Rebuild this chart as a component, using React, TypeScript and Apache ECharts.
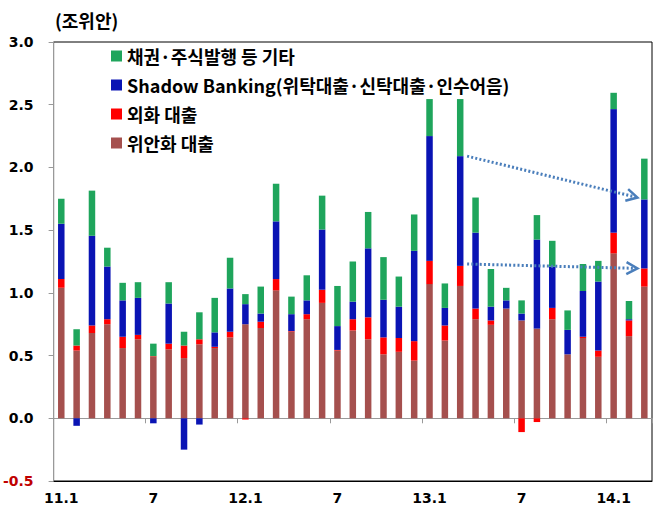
import React, { useEffect, useRef } from "react";
import * as echarts from "echarts";

const categories = [
  "11.1", "11.2", "11.3", "11.4", "11.5", "11.6", "11.7", "11.8", "11.9", "11.10", "11.11", "11.12",
  "12.1", "12.2", "12.3", "12.4", "12.5", "12.6", "12.7", "12.8", "12.9", "12.10", "12.11", "12.12",
  "13.1", "13.2", "13.3", "13.4", "13.5", "13.6", "13.7", "13.8", "13.9", "13.10", "13.11", "13.12",
  "14.1", "14.2", "14.3",
];

// 위안화 대출
const yuanLoans = [
  1.04, 0.54, 0.68, 0.75, 0.56, 0.63, 0.49, 0.55, 0.48, 0.59, 0.56, 0.645,
  0.75, 0.72, 1.02, 0.69, 0.79, 0.92, 0.54, 0.70, 0.63, 0.51, 0.53, 0.46,
  1.07, 0.62, 1.055, 0.79, 0.745, 0.875, 0.78, 0.715, 0.79, 0.51, 0.64, 0.49,
  1.315, 0.655, 1.05,
];
// 외화 대출
const fxLoans = [
  0.07, 0.04, 0.06, 0.04, 0.09, 0.035, 0.005, 0.045, 0.10, 0.04, 0.01, 0.045,
  -0.01, 0.05, 0.09, 0.005, 0.04, 0.105, 0.005, 0.09, 0.175, 0.135, 0.11, 0.155,
  0.185, 0.12, 0.16, 0.085, 0.035, 0.0, -0.11, -0.03, 0.09, 0.0, 0.01, 0.05,
  0.165, 0.125, 0.145,
];
// Shadow Banking
const shadow = [
  0.44, -0.06, 0.715, 0.42, 0.29, 0.295, -0.04, 0.32, -0.25, -0.05, 0.115, 0.345,
  0.16, 0.065, 0.46, 0.135, 0.11, 0.48, 0.19, 0.14, 0.55, 0.30, 0.25, 0.72,
  0.995, 0.14, 0.875, 0.605, 0.11, 0.065, 0.055, 0.71, 0.33, 0.195, 0.365, 0.55,
  0.985, 0.01, 0.55,
];
// 채권·주식발행 등 기타
const others = [
  0.20, 0.13, 0.36, 0.15, 0.14, 0.125, 0.10, 0.17, 0.11, 0.215, 0.275, 0.245,
  0.08, 0.215, 0.30, 0.14, 0.20, 0.27, 0.32, 0.32, 0.29, 0.34, 0.24, 0.29,
  0.295, 0.195, 0.455, 0.28, 0.30, 0.10, 0.105, 0.195, 0.205, 0.155, 0.215, 0.165,
  0.13, 0.145, 0.325,
];

const seriesNames = [
  "위안화 대출",
  "외화 대출",
  "Shadow Banking(위탁대출·신탁대출·인수어음)",
  "채권·주식발행 등 기타",
];
const seriesColors = ["#A5504E", "#FF0000", "#0A14B4", "#1FA55C"];
const legendOrder = [seriesNames[3], seriesNames[2], seriesNames[1], seriesNames[0]];

const yTicks = { min: -0.5, max: 3.0, interval: 0.5 };

// annotation arrows in data units: [categoryIndex (fractional), value]
const arrows = [
  { from: [26.45, 2.09], to: [37.55, 1.76] },
  { from: [26.45, 1.23], to: [37.55, 1.195] },
];

const AXIS_FONT = "DejaVu Sans";
const KR_FONT = "Noto Sans CJK KR";

export default function App() {
  const ref = useRef<HTMLDivElement>(null);

  useEffect(() => {
    if (!ref.current) return;
    const chart = echarts.init(ref.current, null, { renderer: "svg" });
    const values = [yuanLoans, fxLoans, shadow, others];

    chart.setOption({
      animation: false,
      title: {
        text: "(조위안)",
        left: 55,
        top: 11,
        padding: 0,
        textStyle: { fontFamily: KR_FONT, fontSize: 18, fontWeight: "bold", color: "#000" },
      },
      legend: {
        data: legendOrder,
        orient: "vertical",
        left: 111,
        top: 46,
        padding: 0,
        itemGap: 9,
        itemWidth: 11,
        itemHeight: 11,
        icon: "rect",
        textStyle: { fontFamily: KR_FONT, fontSize: 18, fontWeight: "bold", color: "#000", lineHeight: 20 },
      },
      grid: {
        left: 53,
        right: 15,
        top: 42,
        bottom: 40,
        show: true,
        borderColor: "#000",
        borderWidth: 1,
        containLabel: false,
      },
      xAxis: [
        {
          type: "category",
          data: categories,
          position: "bottom",
          axisLine: { onZero: true, lineStyle: { color: "#999", width: 1 } },
          axisTick: { show: true, interval: 5, length: 5, lineStyle: { color: "#999" } },
          axisLabel: { show: false },
          splitLine: { show: false },
        },
        {
          type: "category",
          data: categories,
          position: "bottom",
          axisLine: { onZero: false, show: true, lineStyle: { color: "#000", width: 1 } },
          axisTick: { show: false },
          axisLabel: {
            interval: 5,
            margin: 10,
            fontFamily: AXIS_FONT,
            fontSize: 14,
            fontWeight: "bold",
            color: "#000",
            formatter: (v: string) => (v.endsWith(".1") ? v : v.split(".")[1]),
          },
        },
      ],
      yAxis: {
        type: "value",
        min: yTicks.min,
        max: yTicks.max,
        interval: yTicks.interval,
        axisLine: { show: true, lineStyle: { color: "#999" } },
        axisTick: { show: true, length: 5, lineStyle: { color: "#999" } },
        splitLine: { show: false },
        axisLabel: {
          margin: 20,
          fontFamily: AXIS_FONT,
          fontSize: 14,
          fontWeight: "bold",
          color: (v: any) => (Number(v) < 0 ? "#C00000" : "#000"),
          formatter: (v: number) => v.toFixed(1),
        },
      },
      series: seriesNames.map((name, i) => ({
        name,
        type: "bar",
        stack: "total",
        barWidth: 6.5,
        data: values[i],
        itemStyle: { color: seriesColors[i] },
      })),
    });

    const finder = { xAxisIndex: 0, yAxisIndex: 0 };
    const toPx = (xi: number, y: number) => {
      const i0 = Math.floor(xi);
      const f = xi - i0;
      const p0 = chart.convertToPixel(finder as any, [i0, y]) as number[];
      const p1 = chart.convertToPixel(finder as any, [i0 + 1, y]) as number[];
      return [p0[0] + (p1[0] - p0[0]) * f, p0[1]];
    };

    const graphics: any[] = [];
    const arrowColor = "#4A7EBB";
    arrows.forEach((a) => {
      const s = toPx(a.from[0], a.from[1]);
      const e = toPx(a.to[0], a.to[1]);
      const dx = e[0] - s[0];
      const dy = e[1] - s[1];
      const len = Math.sqrt(dx * dx + dy * dy);
      const ux = dx / len;
      const uy = dy / len;
      const nx = -uy;
      const ny = ux;
      const L = 11;
      const W = 6;
      graphics.push({
        type: "polyline",
        shape: { points: [s, [e[0] - ux * 2, e[1] - uy * 2]] },
        style: { stroke: arrowColor, lineWidth: 3, lineDash: [2, 2.2], fill: null },
        z: 100,
      });
      graphics.push({
        type: "polyline",
        shape: {
          points: [
            [e[0] - ux * L + nx * W, e[1] - uy * L + ny * W],
            e,
            [e[0] - ux * L - nx * W, e[1] - uy * L - ny * W],
          ],
        },
        style: { stroke: arrowColor, lineWidth: 2.5, fill: null },
        z: 100,
      });
    });
    chart.setOption({ graphic: graphics });

    return () => chart.dispose();
  }, []);

  return (
    <div
      ref={ref}
      style={{ position: "absolute", left: 0, top: 0, width: 667, height: 521, background: "#fff" }}
    />
  );
}
